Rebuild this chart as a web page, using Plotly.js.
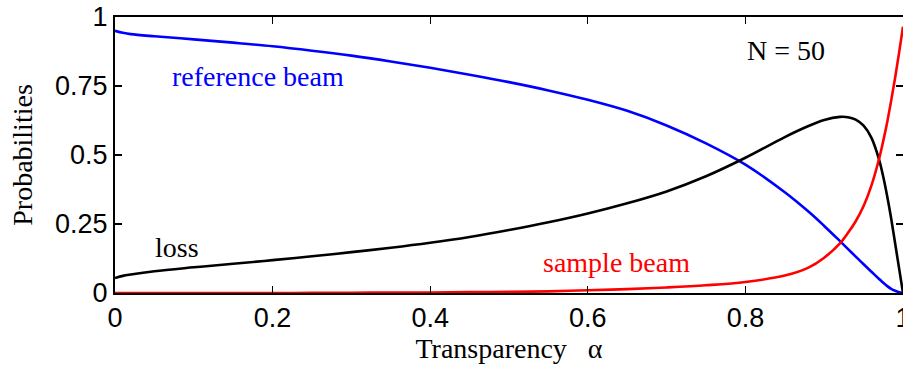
<!DOCTYPE html>
<html>
<head>
<meta charset="utf-8">
<script src="https://cdn.plot.ly/plotly-3.0.1.min.js"></script>
<style>html,body{margin:0;padding:0;background:#fff;}#chart{width:903px;height:368px;}</style>
</head>
<body>
<div id="chart"></div>
<script>
const alpha = [0, 0.01, 0.02, 0.05, 0.1, 0.15, 0.2, 0.25, 0.3, 0.35, 0.4, 0.45, 0.5, 0.55, 0.6, 0.65, 0.7, 0.75, 0.8, 0.85, 0.88, 0.9, 0.92, 0.93, 0.94, 0.95, 0.96, 0.97, 0.975, 0.98, 0.985, 0.99, 0.995, 1.0];
const referenceBeam = [0.95, 0.943, 0.938, 0.93, 0.919, 0.907, 0.894, 0.878, 0.86, 0.839, 0.816, 0.791, 0.764, 0.734, 0.70, 0.66, 0.607, 0.542, 0.465, 0.365, 0.295, 0.243, 0.188, 0.16, 0.132, 0.104, 0.077, 0.05, 0.037, 0.025, 0.015, 0.008, 0.003, 0];
const loss = [0.054, 0.062, 0.067, 0.079, 0.093, 0.106, 0.119, 0.133, 0.148, 0.164, 0.182, 0.203, 0.228, 0.256, 0.288, 0.325, 0.368, 0.423, 0.49, 0.565, 0.605, 0.627, 0.638, 0.637, 0.628, 0.606, 0.562, 0.48, 0.42, 0.35, 0.27, 0.18, 0.09, 0];
const sampleBeam = [0, 0, 0, 0, 0, 0, 0, 0.0005, 0.001, 0.0015, 0.002, 0.003, 0.004, 0.006, 0.01, 0.014, 0.02, 0.028, 0.04, 0.063, 0.092, 0.128, 0.18, 0.217, 0.26, 0.315, 0.39, 0.49, 0.552, 0.62, 0.697, 0.78, 0.87, 0.965];
const xTicks = [0, 0.2, 0.4, 0.6, 0.8, 1];
const xTickLabels = ['0', '0.2', '0.4', '0.6', '0.8', '1'];
const yTicks = [0, 0.25, 0.5, 0.75, 1];
const yTickLabels = ['0', '0.25', '0.5', '0.75', '1'];

const serif = 'Liberation Serif, Times New Roman, serif';
const sans = 'Liberation Sans, Arial, sans-serif';

const lineStyle = (c) => ({color: c, width: 2.6, shape: 'spline', smoothing: 1});
const traces = [
  {x: alpha, y: referenceBeam, mode: 'lines', line: lineStyle('#0000ff'), name: 'reference beam'},
  {x: alpha, y: loss, mode: 'lines', line: lineStyle('#000000'), name: 'loss'},
  {x: alpha, y: sampleBeam, mode: 'lines', line: lineStyle('#ff0000'), name: 'sample beam'}
];

const layout = {
  width: 903, height: 368,
  margin: {l: 115, r: 0, t: 17, b: 75},
  paper_bgcolor: '#fff', plot_bgcolor: '#fff',
  showlegend: false,
  xaxis: {
    range: [0, 1], tickvals: xTicks, ticktext: xTickLabels,
    ticks: 'inside', ticklen: 7, tickwidth: 1.2, tickcolor: '#000',
    showline: true, linecolor: '#000', linewidth: 2, mirror: 'ticks',
    showgrid: false, zeroline: false, ticklabeloverflow: 'allow',
    tickfont: {family: sans, size: 27, color: '#000'},
    title: {text: 'Transparency\u00a0\u00a0\u00a0α', font: {family: serif, size: 28, color: '#000'}, standoff: 4}
  },
  yaxis: {
    range: [0, 1], tickvals: yTicks, ticktext: yTickLabels,
    ticks: 'inside', ticklen: 7, tickwidth: 1.2, tickcolor: '#000',
    showline: true, linecolor: '#000', linewidth: 2, mirror: 'ticks',
    showgrid: false, zeroline: false, ticklabeloverflow: 'allow',
    tickfont: {family: sans, size: 27, color: '#000'},
    title: {text: 'Probabilities', font: {family: serif, size: 28, color: '#000'}, standoff: 14}
  },
  annotations: [
    {x: 0.07, y: 0.786, xref: 'x', yref: 'y', text: 'reference beam', showarrow: false, xanchor: 'left', yanchor: 'middle', font: {family: serif, size: 28, color: '#0000ff'}},
    {x: 0.048, y: 0.164, xref: 'x', yref: 'y', text: 'loss', showarrow: false, xanchor: 'left', yanchor: 'middle', font: {family: serif, size: 28, color: '#000'}},
    {x: 0.54, y: 0.11, xref: 'x', yref: 'y', text: 'sample beam', showarrow: false, xanchor: 'left', yanchor: 'middle', font: {family: serif, size: 28, color: '#ff0000'}},
    {x: 0.8, y: 0.88, xref: 'x', yref: 'y', text: 'N = 50', showarrow: false, xanchor: 'left', yanchor: 'middle', font: {family: serif, size: 28, color: '#000'}}
  ]
};

Plotly.newPlot('chart', traces, layout, {displayModeBar: false, staticPlot: true});
</script>
</body>
</html>
